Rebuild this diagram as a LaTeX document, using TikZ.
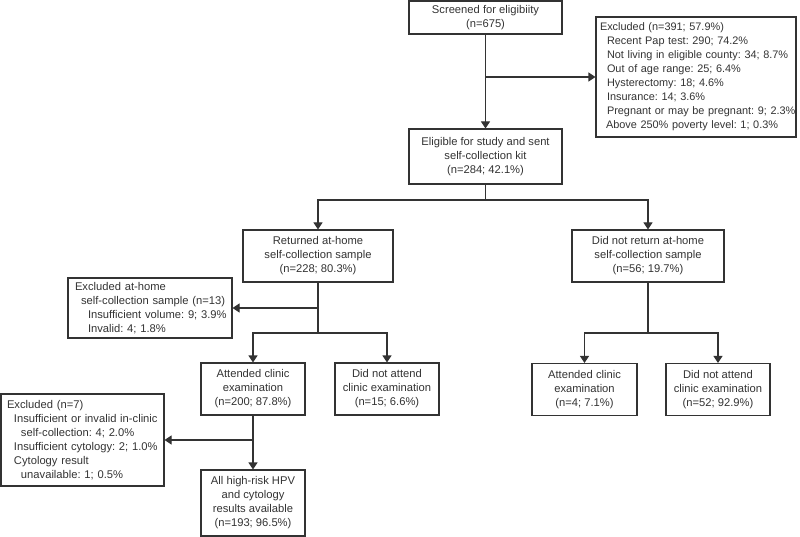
\documentclass[tikz,border=0pt]{standalone}
\usepackage{fontspec}
\setmainfont{Liberation Sans}
\usepackage{tikz}
\usetikzlibrary{arrows,arrows.meta,positioning,calc}
\usepackage{color}
\definecolor{ink}{HTML}{333333}
\newcommand{\exline}[2]{\hspace*{#1pt}\mbox{#2}}

\begin{document}
\begin{tikzpicture}[x=1pt, y=-1pt, line width=1.1pt, draw=ink, text=ink,
    font=\fontsize{11.2}{14}\selectfont\frenchspacing,
    box/.style={draw, align=center, inner sep=0pt, minimum height=52pt},
    exbox/.style={draw, align=left, inner xsep=0pt, inner ysep=0pt},
    arr/.style={-{Triangle[width=9pt,length=7pt]}}]
      \useasboundingbox (0,0) rectangle (800,537);

      % Define nodes
      \node[box, minimum width=153pt, minimum height=33pt] (screen) at (485.5,17.5) {Screened for eligibiity\\(n=675)};
      \node[exbox, text width=200pt, minimum height=120pt, font=\fontsize{10.9}{14}\selectfont\frenchspacing] (excl) at (696,77) {%
        \exline{4}{Excluded (n=391; 57.9\%)}\\
        \exline{11}{Recent Pap test: 290; 74.2\%}\\
        \exline{11}{Not living in eligible county: 34; 8.7\%}\\
        \exline{11}{Out of age range: 25; 6.4\%}\\
        \exline{11}{Hysterectomy: 18; 4.6\%}\\
        \exline{11}{Insurance: 14; 3.6\%}\\
        \exline{11}{Pregnant or may be pregnant: 9; 2.3\%}\\
        \exline{10}{Above 250\% poverty level: 1; 0.3\%}};
      \node[box, minimum width=153pt, minimum height=55pt] (elig) at (485.5,156.5) {Eligible for study and sent\\self-collection kit\\(n=284; 42.1\%)};

      \node[box, minimum width=150pt] (ret) at (318,256) {Returned at-home\\self-collection sample\\(n=228; 80.3\%)};
      \node[box, minimum width=152pt] (noret) at (648,256) {Did not return at-home\\self-collection sample\\(n=56; 19.7\%)};

      \node[exbox, text width=164pt, minimum height=60pt] (exhome) at (150,308) {%
        \exline{7}{Excluded at-home}\\
        \exline{13}{self-collection sample (n=13)}\\
        \exline{20}{Insufficient volume: 9; 3.9\%}\\
        \exline{20}{Invalid: 4; 1.8\%}};

      \node[box, minimum width=104pt] (att1) at (253,389) {Attended clinic\\examination\\(n=200; 87.8\%)};
      \node[box, minimum width=104pt] (dna1) at (387,389) {Did not attend\\clinic examination\\(n=15; 6.6\%)};
      \node[box, minimum width=105pt] (att2) at (584.5,389.5) {Attended clinic\\examination\\(n=4; 7.1\%)};
      \node[box, minimum width=104pt] (dna2) at (718,389.5) {Did not attend\\clinic examination\\(n=52; 92.9\%)};

      \node[exbox, text width=163pt, minimum height=92pt] (ex7) at (82.5,440) {%
        \exline{6}{Excluded (n=7)}\\
        \exline{13}{Insufficient or invalid in-clinic}\\
        \exline{20}{self-collection: 4; 2.0\%}\\
        \exline{13}{Insufficient cytology: 2; 1.0\%}\\
        \exline{13}{Cytology result}\\
        \exline{20}{unavailable: 1; 0.5\%}};
      \node[box, minimum width=104pt, minimum height=66pt] (all) at (253,503) {All high-risk HPV\\and cytology\\results available\\(n=193; 96.5\%)};

      % Branch points
      \coordinate (b1) at (485.5,77);
      \coordinate (b2) at (485.5,200);
      \coordinate (b3) at (318,308);
      \coordinate (b4) at (318,333);
      \coordinate (b5) at (253,440);
      \coordinate (b6) at (648,333);

      % Draw edges
      \draw[arr] (screen) -- (elig);
      \draw[arr] (b1) -- (excl.west);
      \draw[-] (elig) -- (b2);
      \draw[arr] (b2) -| (ret.north);
      \draw[arr] (b2) -| (noret.north);
      \draw[-] (ret) -- (b4);
      \draw[arr] (b3) -- (exhome.east);
      \draw[arr] (b4) -| (att1.north);
      \draw[arr] (b4) -| (dna1.north);
      \draw[arr] (att1) -- (all);
      \draw[arr] (b5) -- (ex7.east);
      \draw[-] (noret) -- (b6);
      \draw[arr] (b6) -| (att2.north);
      \draw[arr] (b6) -| (dna2.north);
    \end{tikzpicture}
\end{document}
